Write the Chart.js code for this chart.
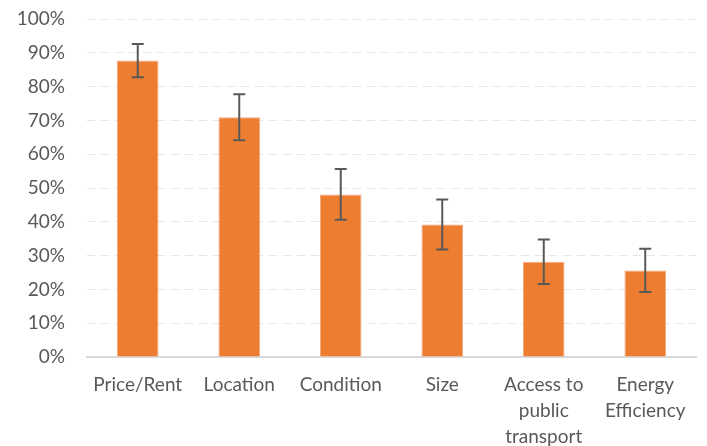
<!DOCTYPE html>
<html>
<head>
<meta charset="utf-8">
<script src="https://cdn.jsdelivr.net/npm/chart.js@4/dist/chart.umd.min.js"></script>
<style>
html,body{margin:0;padding:0;background:#fff;}
#wrap{width:707px;height:446px;position:relative;}
</style>
</head>
<body>
<div id="wrap"><canvas id="c" width="707" height="446"></canvas></div>
<script>
const categories = [["Price/Rent"], ["Location"], ["Condition"], ["Size"], ["Access to", "public", "transport"], ["Energy", "Efficiency"]];
const values = [87.7, 70.9, 48.1, 39.2, 28.2, 25.6];
const errors = [4.9, 6.8, 7.5, 7.4, 6.6, 6.4];
const yTicks = [0, 10, 20, 30, 40, 50, 60, 70, 80, 90, 100];

const errorBarPlugin = {
  id: 'errorBars',
  afterDatasetsDraw(chart) {
    const ctx = chart.ctx;
    const meta = chart.getDatasetMeta(0);
    const y = chart.scales.y;
    ctx.save();
    ctx.strokeStyle = '#595959';
    ctx.lineWidth = 2;
    meta.data.forEach((bar, i) => {
      const x = bar.x;
      const top = y.getPixelForValue(values[i] + errors[i]);
      const bot = y.getPixelForValue(values[i] - errors[i]);
      ctx.beginPath();
      ctx.moveTo(x, top); ctx.lineTo(x, bot);
      ctx.moveTo(x - 6, top); ctx.lineTo(x + 6, top);
      ctx.moveTo(x - 6, bot); ctx.lineTo(x + 6, bot);
      ctx.stroke();
    });
    ctx.restore();
  }
};

new Chart(document.getElementById('c'), {
  type: 'bar',
  data: {
    labels: categories,
    datasets: [{
      data: values,
      backgroundColor: '#ED7D31',
      borderColor: '#F4A77A',
      borderWidth: 1,
      barPercentage: 0.41,
      categoryPercentage: 1.0
    }]
  },
  plugins: [errorBarPlugin],
  options: {
    responsive: false,
    animation: false,
    devicePixelRatio: 1,
    layout: { padding: { top: 19, right: 11, left: 0, bottom: 0 } },
    plugins: { legend: { display: false }, tooltip: { enabled: false } },
    scales: {
      x: {
        grid: { display: false },
        border: { display: true, color: '#D9D9D9', width: 2 },
        ticks: {
          color: '#595959',
          font: { family: 'Lato', size: 19, lineHeight: 1.37 },
          maxRotation: 0, autoSkip: false, padding: 7
        },
        afterFit(s) { s.height = 89; }
      },
      y: {
        min: 0, max: 100,
        afterBuildTicks(s) { s.ticks = yTicks.map(v => ({ value: v })); },
        grid: { color: '#E6E6E6', lineWidth: 1, drawTicks: false },
        border: { display: false, dash: [8, 6] },
        ticks: {
          color: '#595959',
          font: { family: 'Lato', size: 19 },
          padding: 22,
          callback: v => v + '%'
        },
        afterFit(s) { s.width = 87; s.paddingTop = 0; s.paddingBottom = 0; }
      }
    }
  }
});
</script>
</body>
</html>
